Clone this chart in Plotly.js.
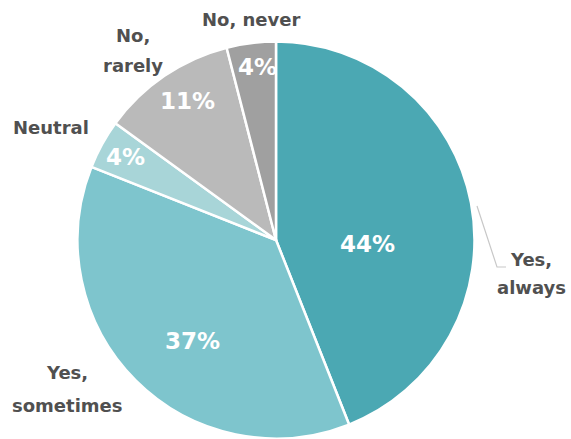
<!DOCTYPE html>
<html>
<head>
<meta charset="utf-8">
<script src="https://cdn.plot.ly/plotly-3.0.1.min.js"></script>
<style>html,body{margin:0;padding:0;background:#fff;}#chart{width:571px;height:439px;}</style>
</head>
<body>
<div id="chart"></div>
<script>
const categories = ["Yes, always", "Yes, sometimes", "Neutral", "No, rarely", "No, never"];
const values = [44, 37, 4, 11, 4];
const percentLabels = ["44%", "37%", "4%", "11%", "4%"];
const outsideLabels = ["Yes,<br>always", "Yes,<br>sometimes", "Neutral", "No,<br>rarely", "No, never"];
const colors = ["#4ba8b3", "#7ec5cd", "#a8d5d8", "#bababa", "#a0a0a0"];

const trace = {
  type: "pie",
  labels: categories,
  values: values,
  textinfo: "none",
  sort: false,
  direction: "clockwise",
  rotation: 0,
  marker: {colors: colors, line: {color: "#ffffff", width: 2.5}},
  domain: {x: [77.5/571, 474.5/571], y: [0.5/439, 397.5/439]},
  showlegend: false,
  hoverinfo: "none"
};

const fam = "'DejaVu Sans', Lato, sans-serif";
const lblFont = {family: fam, size: 18, color: "#505050", weight: "bold"};
const pctFont = {family: fam, size: 23, color: "#ffffff", weight: "bold"};
const px = (x) => x / 571;
const py = (y) => 1 - y / 439;

// label centres (pixels) and line gap for multi-line labels
const outPos = [[531, 259], [67, 372], [51, 127], [133, 35], [251, 20]];
const lineGap = [28, 33, 0, 31, 0];
const pctPos = [[367, 244], [192, 341], [125, 157], [187, 101], [257, 67]];

const annotations = [];
outsideLabels.forEach((t, i) => {
  t.split("<br>").forEach((line, j) => {
    annotations.push({
      text: line, x: px(outPos[i][0]), y: py(outPos[i][1] + j * lineGap[i]),
      xref: "paper", yref: "paper", showarrow: false, font: lblFont,
      xanchor: "center", yanchor: "middle"
    });
  });
});
percentLabels.forEach((t, i) => {
  annotations.push({
    text: t, x: px(pctPos[i][0]), y: py(pctPos[i][1]), xref: "paper", yref: "paper",
    showarrow: false, font: pctFont, xanchor: "center", yanchor: "middle"
  });
});

const layout = {
  width: 571, height: 439,
  margin: {l: 0, r: 0, t: 0, b: 0},
  paper_bgcolor: "#ffffff",
  annotations: annotations,
  shapes: [{
    type: "path", xref: "paper", yref: "paper",
    path: `M ${px(477)} ${py(206)} L ${px(497)} ${py(267)} L ${px(506)} ${py(267)}`,
    line: {color: "#c8c8c8", width: 1.2}
  }]
};

Plotly.newPlot("chart", [trace], layout, {staticPlot: true});
</script>
</body>
</html>
